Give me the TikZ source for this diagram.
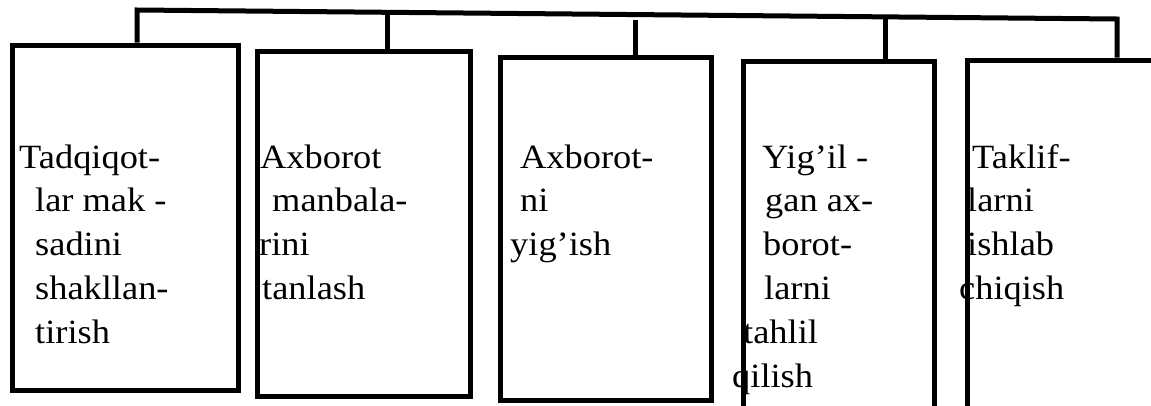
\documentclass[tikz,border=0pt]{standalone}
\usepackage{fontspec}
\setmainfont{Liberation Serif}[FakeStretch=1.07]
\begin{document}
\begin{tikzpicture}[x=1pt,y=-1pt,
  stagebox/.style={draw, rectangle, line width=5pt, inner sep=0pt},
  link/.style={line width=5pt, line join=miter},
  label/.style={anchor=base west, align=left, inner sep=0pt,
    font={\fontsize{34}{43.8}\selectfont}}]
\useasboundingbox (0,0) rectangle (1151,405);
\clip (0,0) rectangle (1151,405);

% stage boxes
\node[stagebox, minimum width=226pt, minimum height=345pt] (b1) at (125,217.5) {};
\node[stagebox, minimum width=213pt, minimum height=345pt] (b2) at (363.5,223.5) {};
\node[stagebox, minimum width=211pt, minimum height=343pt] (b3) at (605.5,228.5) {};
\node[stagebox, minimum width=191pt, minimum height=369pt] (b4) at (838.5,245.5) {};
\node[stagebox, minimum width=208pt, minimum height=370pt] (b5) at (1071,245) {};

% top bus line and drops
\coordinate (t1) at (137,10);
\coordinate (t2) at (387,12.3);
\coordinate (t3) at (635,19.5);
\coordinate (t4) at (885,16.9);
\coordinate (t5) at (1117,19);
\draw[link] (t1 |- b1.north) -- (t1) -- (t5) -- (t5 |- b5.north);
\draw[link] (t2) -- (t2 |- b2.north);
\draw[link] (t3) -- (t3 |- b3.north);
\draw[link] (t4) -- (t4 |- b4.north);

% box texts (each node is placed by the baseline of its last line)
\node[label] (l1) at (19,343.2) {Tadqiqot-\\\hspace*{16pt}lar mak -\\\hspace*{16pt}sadini\\\hspace*{16pt}shakllan-\\\hspace*{16pt}tirish};
\node[label] (l2) at (259,299.4) {\hspace*{1pt}Axborot\\\hspace*{13pt}manbala-\\rini\\\hspace*{3pt}tanlash};
\node[label] (l3) at (510,255.6) {\hspace*{10pt}Axborot-\\\hspace*{10pt}ni\\yig’ish};
\node[label] (l4) at (732,387) {\hspace*{30pt}Yig’il -\\\hspace*{33pt}gan ax-\\\hspace*{31pt}borot-\\\hspace*{32pt}larni\\\hspace*{11pt}tahlil\\qilish};
\node[label] (l5) at (959,299.4) {\hspace*{13pt}Taklif-\\\hspace*{8pt}larni\\\hspace*{8pt}ishlab\\chiqish};
\end{tikzpicture}
\end{document}
